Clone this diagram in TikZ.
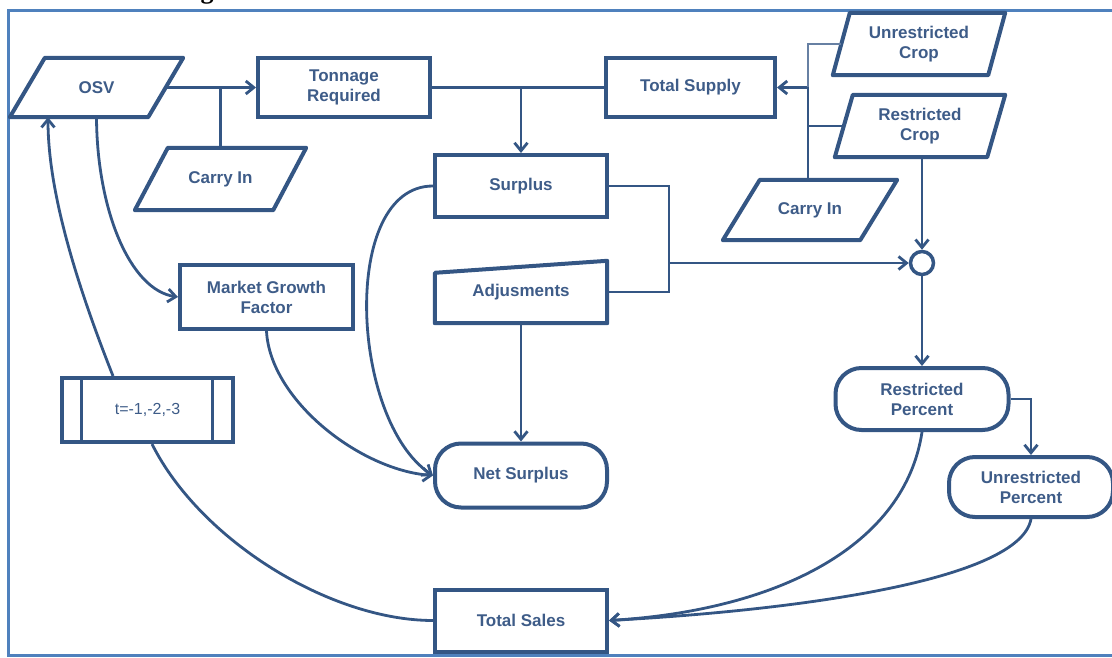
\documentclass[tikz,border=0pt]{standalone}
\usepackage{fontspec}
\setmainfont{Liberation Sans}
\newfontfamily\headfont{Liberation Serif}
\usetikzlibrary{arrows.meta,calc}
\definecolor{nb}{RGB}{52,86,132}
\definecolor{nt}{RGB}{62,92,136}
\definecolor{fb}{RGB}{79,129,189}
\tikzset{
  lbl/.style={font=\fontsize{17}{20}\selectfont\bfseries, text=nt, align=center, inner sep=0pt},
  sz/.style 2 args={minimum width=#1, minimum height=#2},
  rectnode/.style={lbl, draw=nb, line width=4pt, rectangle},
  ghost/.style={lbl, draw=none, rectangle},
  pill/.style={lbl, draw=nb, line width=4pt, rectangle, rounded corners=26pt},
  outline/.style={draw=nb, line width=4pt, line join=round},
  conn/.style={draw=nb, line width=2.8pt},
  thinconn/.style={draw=nb!75, line width=2pt},
  arr/.style={conn, -{Straight Barb[length=8pt,width=13pt]}},
}
\newcommand\mypara[2]{\draw[outline] ([xshift=#2pt]#1.north west) -- ([xshift=#2pt]#1.north east) -- ([xshift=-#2pt]#1.south east) -- ([xshift=-#2pt]#1.south west) -- cycle;}
\begin{document}
\begin{tikzpicture}[x=1pt,y=-1pt]
\useasboundingbox (0,0) rectangle (1112,658);
% heading fragment
\begin{scope}
\clip (0,0) rectangle (1112,9);
\node[font=\headfont\fontsize{26}{28}\selectfont\bfseries, anchor=base, inner sep=0pt] (frag) at (207,-1) {g};
\end{scope}
% frame
\draw[fb, line width=3pt] (8.5,10.5) rectangle (1130,655.5);

% nodes
\node[ghost, sz={138}{59}] (osv) at (96.5,87.5) {OSV};
\mypara{osv}{17.5}
\node[rectnode, sz={172}{59}] (ton) at (344,87.5) {Tonnage\\Required};
\node[ghost, sz={138}{62}] (cinl) at (220.5,179) {Carry In};
\mypara{cinl}{16.5}
\node[rectnode, sz={169}{59}] (tsup) at (690.5,87.5) {Total Supply};
\node[ghost, sz={155}{62}] (ucrop) at (919,44) {Unrestricted\\Crop};
\mypara{ucrop}{8.5}
\node[ghost, sz={152}{62}] (rcrop) at (920,126) {Restricted\\Crop};
\mypara{rcrop}{9}
\node[ghost, sz={137}{60}] (cinr) at (810,210) {Carry In};
\mypara{cinr}{18.5}
\node[rectnode, sz={172}{62}] (sur) at (521,186) {Surplus};
\node[ghost, sz={172}{62}] (adj) at (521,292) {\raisebox{-4pt}{Adjusments}};
\draw[outline] (adj.south west) -- ([yshift=-12pt]adj.north west) -- (adj.north east) -- (adj.south east) -- cycle;
\node[circle, draw=nb, line width=3.5pt, minimum size=23pt, inner sep=0pt] (circ) at (922,263) {};
\node[rectnode, sz={173}{64}] (mgf) at (266.5,297) {Market Growth\\Factor};
\node[rectnode, sz={171}{64}] (tb) at (147.5,410) {\fontsize{16}{18}\selectfont\mdseries t=-1,-2,-3};
\draw[draw=nb, line width=3pt] ([xshift=21pt]tb.north west) -- ([xshift=21pt]tb.south west);
\draw[draw=nb, line width=3pt] ([xshift=-23pt]tb.north east) -- ([xshift=-23pt]tb.south east);
\node[pill, sz={172}{64}] (ns) at (521,475.5) {Net Surplus};
\node[pill, sz={173}{62}] (rp) at (922,399) {Restricted\\Percent};
\node[pill, sz={164}{60}] (up) at (1031,487) {Unrestricted\\Percent};
\node[rectnode, sz={172}{62}] (ts) at (521,620.5) {Total Sales};

% junction coordinates
\coordinate (jl) at (220.5,87.5);
\coordinate (jm) at (521,87.5);
\coordinate (jr) at (808,87.5);
\coordinate (js) at (669,263);

% top row connectors
\draw[arr] (osv.east) -- (ton.west);
\draw[conn] (cinl.north) -- (jl);
\draw[conn] (ton.east) -- (tsup.west);
\draw[arr] (jm) -- (sur.north);
\draw[arr] (jr) -- (tsup.east);
\draw[conn] (jr |- cinr.north) -- (jr |- rcrop.west) -- (rcrop.west);
\draw[thinconn] (jr |- rcrop.west) -- (jr |- ucrop.west) -- (ucrop.west);
\draw[conn] (jr |- rcrop.west) -- (jr);

% surplus / adjustments to junction circle
\draw[conn] (sur.east) -| (js |- adj.east) -- (adj.east);
\draw[arr] (js) -- (circ.west);
\draw[arr] (rcrop.south -| circ) -- (circ.north);
\draw[arr] (circ.south) -- (rp.north);
\draw[arr] (rp.east) -| (up.north);
\draw[arr] (adj.south) -- (ns.north);

% curves
\draw[arr] (osv.south) .. controls (97,210) and (130,290) .. (mgf.west);
\draw[arr] ([xshift=-34.5pt]tb.north) .. controls (75,280) and (48,190) .. ([xshift=-48.5pt]osv.south);
\draw[conn] (ts.west) .. controls (330,620.5) and (200,540) .. ([xshift=4.5pt]tb.south);
\draw[arr] (mgf.south) .. controls (270,400) and (360,470) .. (ns.west);
\draw[arr] (sur.west) .. controls (340,186) and (350,420) .. (ns.west);
\draw[arr] (rp.south) .. controls (905,545) and (780,610) .. (ts.east);
\draw[arr] (up.south) .. controls (1020,580) and (800,610) .. (ts.east);
\end{tikzpicture}
\end{document}
